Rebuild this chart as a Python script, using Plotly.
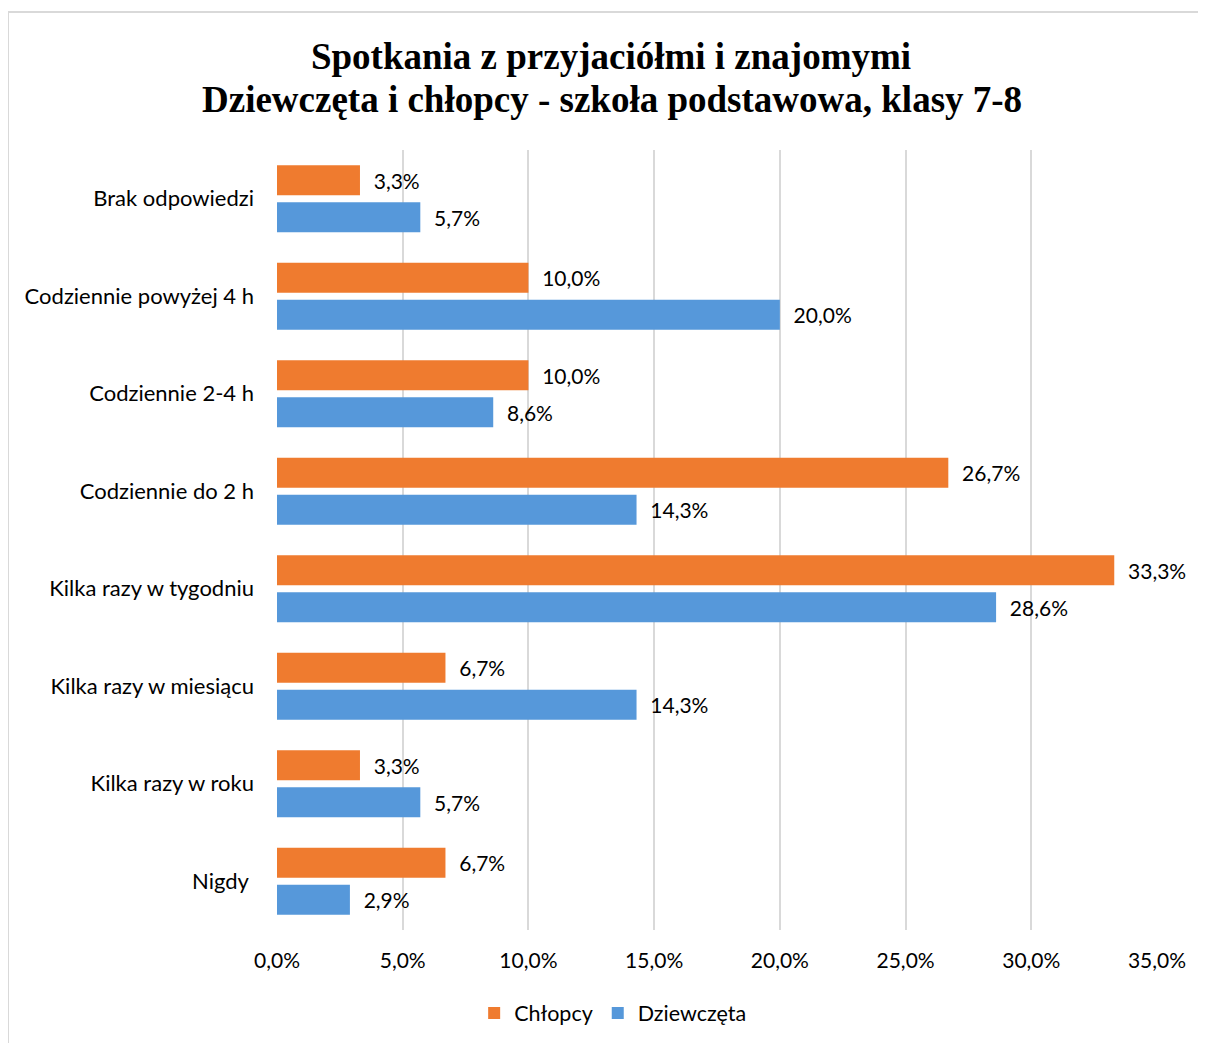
import plotly.graph_objects as go

categories = ["Brak odpowiedzi", "Codziennie powyżej 4 h", "Codziennie 2-4 h",
              "Codziennie do 2 h", "Kilka razy w tygodniu", "Kilka razy w miesiącu",
              "Kilka razy w roku", "Nigdy "]
chlopcy = [3.3, 10.0, 10.0, 26.7, 33.3, 6.7, 3.3, 6.7]
dziewczeta = [5.7, 20.0, 8.6, 14.3, 28.6, 14.3, 5.7, 2.9]
tick_vals = [0, 5, 10, 15, 20, 25, 30, 35]
tick_labels = ["0,0%", "5,0%", "10,0%", "15,0%", "20,0%", "25,0%", "30,0%", "35,0%"]
title_line1 = "Spotkania z przyjaciółmi i znajomymi"
title_line2 = "Dziewczęta i chłopcy - szkoła podstawowa, klasy 7-8"

FONT = "Lato"
FS = 21
L, R, T, B = 269, 57, 142, 121
W, H = 1206, 1043
PW, PH = W - L - R, H - T - B


def px_x(x):
    return (x - L) / PW


def px_y(y):
    return (H - B - y) / PH


fig = go.Figure()
fig.add_trace(go.Bar(
    name="Chłopcy", y=categories, x=chlopcy, orientation="h",
    marker=dict(color="#EF7B2F", line=dict(width=0)),
    texttemplate="\u00a0\u00a0%{x:.1f}%", textposition="outside",
    textfont=dict(family=FONT, size=FS, color="#000000"),
    cliponaxis=False,
))
fig.add_trace(go.Bar(
    name="Dziewczęta", y=categories, x=dziewczeta, orientation="h",
    marker=dict(color="#5698DA", line=dict(width=0)),
    texttemplate="\u00a0\u00a0%{x:.1f}%", textposition="outside",
    textfont=dict(family=FONT, size=FS, color="#000000"),
    cliponaxis=False,
))

fig.update_layout(
    width=W, height=H,
    paper_bgcolor="white", plot_bgcolor="white",
    separators=", ",
    barmode="group", bargap=0.24, bargroupgap=0.19,
    margin=dict(l=L, r=R, t=T, b=B),
    title=dict(
        text="<b>" + title_line1 + "</b>",
        font=dict(family="Liberation Serif", size=37, color="#000000"),
        x=0.5, xanchor="center", xref="container",
        y=1 - 48 / H, yanchor="middle", yref="container",
    ),
    xaxis=dict(
        range=[0, 35], tickvals=tick_vals, ticktext=tick_labels,
        showgrid=True, gridcolor="#D9D9D9", gridwidth=2,
        zeroline=False, showline=False,
        tickfont=dict(family=FONT, size=FS, color="#000000"),
        ticks="", ticklabelstandoff=16,
    ),
    yaxis=dict(
        categoryorder="array", categoryarray=categories, autorange="reversed",
        showgrid=False, zeroline=False, showline=False, ticks="",
        tickfont=dict(family=FONT, size=22, color="#000000"),
        ticklabelstandoff=22,
    ),
    legend=dict(
        orientation="h", x=0.382, xanchor="center", xref="paper",
        y=-0.080, yanchor="top",
        font=dict(family=FONT, size=21.5, color="#000000"),
        itemwidth=30, tracegroupgap=0,
    ),
    showlegend=True,
)

fig.add_annotation(
    text="<b>" + title_line2 + "</b>", xref="paper", yref="paper",
    x=px_x(603.5), y=px_y(91), xanchor="center", yanchor="middle",
    showarrow=False,
    font=dict(family="Liberation Serif", size=37, color="#000000"),
)

# outer chart border (top and left visible)
fig.add_shape(type="line", xref="paper", yref="paper",
              x0=px_x(0), x1=px_x(W + 10), y0=px_y(4), y1=px_y(4),
              line=dict(color="#D9D9D9", width=2))
fig.add_shape(type="line", xref="paper", yref="paper",
              x0=px_x(0), x1=px_x(0), y0=px_y(4), y1=px_y(H + 10),
              line=dict(color="#D9D9D9", width=2))

fig.write_html("out.html")
